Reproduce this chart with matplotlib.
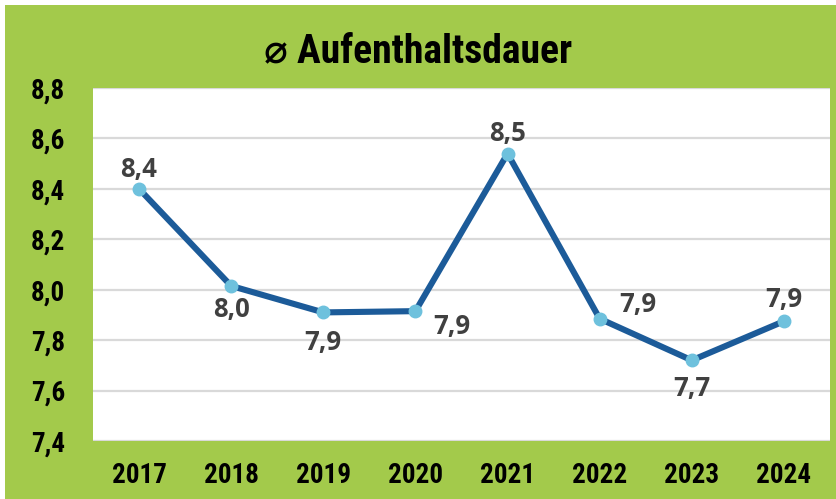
import matplotlib
matplotlib.use("Agg")
import matplotlib.pyplot as plt
from matplotlib.patches import Rectangle

years = ["2017", "2018", "2019", "2020", "2021", "2022", "2023", "2024"]
dauer = [8.40, 8.015, 7.91, 7.915, 8.54, 7.885, 7.72, 7.875]
labels = ["8,4", "8,0", "7,9", "7,9", "8,5", "7,9", "7,7", "7,9"]
# where each value label sits relative to its point (dx, dy in px)
label_pos = [(0, 19), (0, -24), (0, -30), (36, -15), (0, 20), (38, 14), (0, -28), (0, 22)]
yticks = [7.4, 7.6, 7.8, 8.0, 8.2, 8.4, 8.6, 8.8]

green = "#a3ca4b"
line_col = "#1c5b99"
marker_col = "#6ec1dd"

plt.rcParams["font.family"] = ["Roboto Condensed", "Lato", "DejaVu Sans"]

fig = plt.figure(figsize=(8.37, 4.99), dpi=100)
fig.patches.append(Rectangle((5 / 837, 0), 1, 1 - 5 / 499, transform=fig.transFigure,
                             facecolor=green, edgecolor="none", zorder=-1))

ax = fig.add_axes([93 / 837, (499 - 441) / 499, (830 - 93) / 837, (441 - 88) / 499])
ax.set_facecolor("white")
x = list(range(len(years)))
ax.plot(x, dauer, color=line_col, lw=4.4, solid_capstyle="round", zorder=3)
ax.plot(x, dauer, "o", color=marker_col, ms=9, zorder=4)

for xi, yi, lab, (dx, dy) in zip(x, dauer, labels, label_pos):
    ax.annotate(lab, (xi, yi), xytext=(dx, dy), textcoords="offset pixels",
                ha="center", va="center", fontsize=18.5, fontweight="bold",
                color="#404040", family=["Open Sans", "DejaVu Sans"], zorder=5)

ax.set_xlim(-0.5, 7.5)
ax.set_ylim(7.4, 8.8)
ax.set_yticks(yticks)
ax.set_yticklabels([f"{v:.1f}".replace(".", ",") for v in yticks])
ax.set_xticks(x)
ax.set_xticklabels(years)
ax.grid(axis="y", color="#d9d9d9", lw=1.6)
ax.set_axisbelow(True)
for s in ax.spines.values():
    s.set_visible(False)
ax.tick_params(length=0, labelsize=19.5)
ax.tick_params(axis="y", pad=20)
ax.tick_params(axis="x", pad=15)
for t in ax.get_xticklabels() + ax.get_yticklabels():
    t.set_fontweight("bold")

fig.text(0.5, 1 - 51 / 499, "\u2300 Aufenthaltsdauer", ha="center", va="center",
         fontsize=28.5, fontweight="bold")

fig.savefig("out.png", dpi=100)
